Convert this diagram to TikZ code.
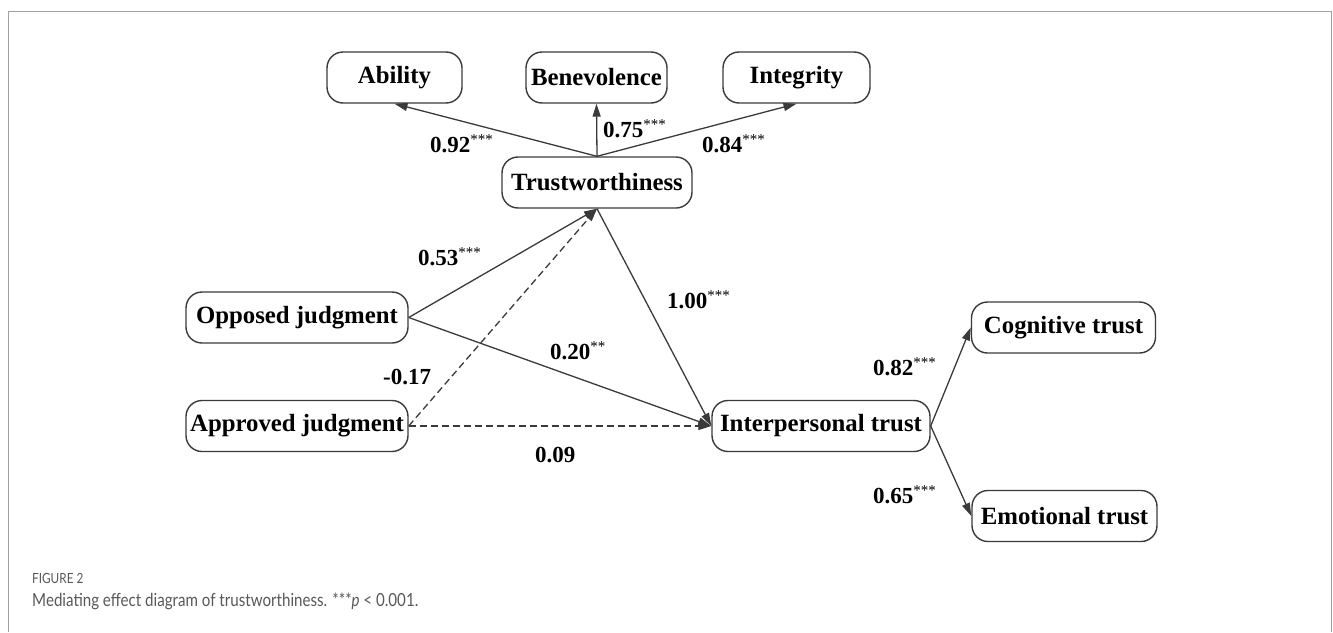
\documentclass[tikz,border=0pt]{standalone}
\usepackage{fontspec}
\setmainfont{Liberation Serif}
\newfontfamily\capfont[FakeStretch=0.84]{Lato}
\usetikzlibrary{arrows.meta}
\definecolor{lineC}{HTML}{3A3A3A}
\definecolor{capC}{HTML}{585858}
\definecolor{frameC}{HTML}{A0A0A0}
\newcommand{\sig}[1]{\raisebox{0.33em}{\fontsize{15}{15}\selectfont\mdseries #1}}
\tikzset{
  box/.style={draw=lineC, line width=1.4pt, rounded corners=16pt, minimum height=51pt,
    inner sep=0pt, font=\fontsize{24.8}{27}\selectfont\bfseries, text=black},
  lbl/.style={anchor=base west, inner sep=0pt, font=\fontsize{23}{26}\selectfont\bfseries, text=black},
  arr/.style={draw=lineC, line width=1.3pt, -{Triangle[length=13pt,width=8pt]}},
  darr/.style={arr, dash pattern=on 7pt off 4pt},
}
\begin{document}
\begin{tikzpicture}[x=1pt,y=-1pt]
\useasboundingbox (0,0) rectangle (1333,632);
\draw[frameC, line width=1.5pt] (8.5,632) -- (8.5,11.5) -- (1331.5,11.5) -- (1331.5,632);

\node[box, minimum width=135pt] (A) at (394.5,77.5) {Ability};
\node[box, minimum width=141pt] (B) at (596.5,77.5) {Benevolence};
\node[box, minimum width=147pt] (G) at (796.5,77.5) {Integrity};
\node[box, minimum width=190pt] (T) at (597,182.5) {Trustworthiness};
\node[box, minimum width=222pt] (O) at (297,317.5) {Opposed judgment};
\node[box, minimum width=222pt] (P) at (297,426) {Approved judgment};
\node[box, minimum width=218pt] (I) at (821,426) {Interpersonal trust};
\node[box, minimum width=184pt] (C) at (1063.5,327.5) {Cognitive trust};
\node[box, minimum width=185pt] (E) at (1064.5,516) {Emotional trust};

\draw[arr] (T.north) -- (A.south);
\draw[arr] (T.north) -- (B.south);
\draw[arr] (T.north) -- (G.south);
\draw[arr] (O.east) -- (T.south);
\draw[darr] (P.east) -- (T.south);
\draw[arr] (T.south) -- (I.west);
\draw[arr] (O.east) -- (I.west);
\draw[darr] (P.east) -- (I.west);
\draw[arr] (I.east) -- (C.west);
\draw[arr] (I.east) -- (E.west);

\node[lbl] (l1) at (430,152) {0.92\sig{***}};
\node[lbl] (l2) at (603,137) {0.75\sig{***}};
\node[lbl] (l3) at (702,152) {0.84\sig{***}};
\node[lbl] (l4) at (418,265) {0.53\sig{***}};
\node[lbl] (l5) at (667,308) {1.00\sig{***}};
\node[lbl] (l6) at (550,359) {0.20\sig{**}};
\node[lbl] (l7) at (383,384) {-0.17};
\node[lbl] (l8) at (535,462) {0.09};
\node[lbl] (l9) at (873,375) {0.82\sig{***}};
\node[lbl] (l10) at (873,503) {0.65\sig{***}};

\node[anchor=base west, inner sep=0pt, text=capC, font=\capfont\fontsize{14}{16}\selectfont] (f1) at (32,583) {FIGURE 2};
\node[anchor=base west, inner sep=0pt, text=capC, font=\capfont\fontsize{18}{20}\selectfont] (f2) at (32,606) {Mediating effect diagram of trustworthiness. ***\textit{p} < 0.001.};
\end{tikzpicture}
\end{document}
